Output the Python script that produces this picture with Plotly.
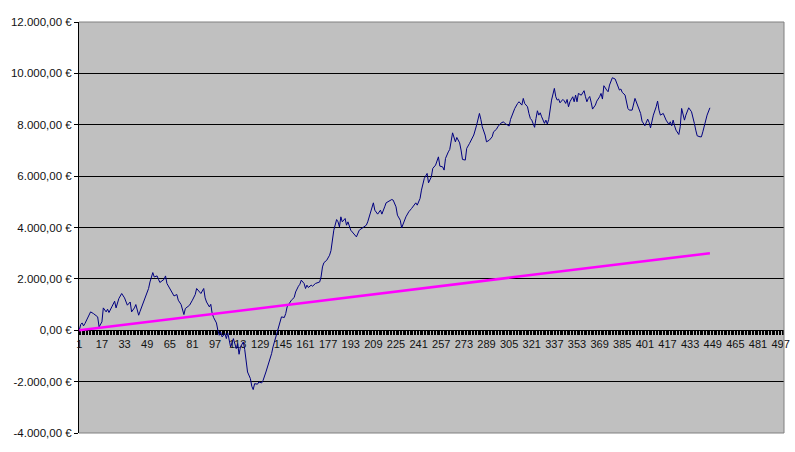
import plotly.graph_objects as go

# Blue series (category index, value in EUR)
blue_cat = [1, 2, 3, 4, 5, 8, 9, 11, 14, 15, 17, 18, 20, 21, 22, 24, 26, 27, 29, 31, 33, 35, 37, 38, 40, 41, 42, 43, 44, 46,
            48, 50, 51, 53, 54, 56, 57, 58, 61, 62, 63, 65, 67, 68, 70, 71, 73, 74, 75, 76, 79, 81, 83, 84, 86, 87, 89, 90,
            91, 92, 93, 94, 95, 96, 98, 99, 100, 101, 102, 104, 105, 106, 107, 108, 110, 112, 113, 114, 115, 117, 118, 119,
            120, 122, 123, 124, 125, 127, 128, 130, 131, 133, 135, 137, 138, 140, 142, 143, 144, 146, 147, 148, 150, 151,
            153, 154, 156, 157, 158, 160, 161, 162, 163, 165, 166, 168, 171, 172, 173, 174, 176, 178, 179, 180, 181, 183,
            184, 185, 186, 187, 189, 190, 191, 193, 194, 197, 199, 201, 204, 205, 207, 209, 210, 212, 214, 215, 217, 218,
            222, 223, 225, 226, 228, 229, 232, 234, 236, 239, 240, 242, 243, 245, 247, 248, 250, 251, 253, 254, 255, 256,
            258, 259, 260, 262, 263, 265, 266, 267, 268, 270, 271, 272, 274, 275, 277, 278, 280, 282, 284, 285, 286, 288,
            289, 291, 293, 294, 296, 297, 299, 301, 302, 304, 305, 306, 308, 309, 311, 312, 314, 315, 316, 318, 319, 320,
            321, 323, 324, 325, 326, 327, 328, 330, 331, 332, 333, 334, 335, 337, 338, 339, 340, 341, 343, 344, 345, 346,
            347, 348, 350, 351, 352, 353, 354, 356, 357, 358, 359, 360, 361, 362, 363, 364, 366, 367, 369, 370, 371, 372,
            374, 375, 376, 377, 378, 380, 381, 382, 383, 384, 385, 387, 388, 389, 390, 392, 394, 395, 396, 397, 398, 399,
            401, 403, 404, 405, 406, 407, 409, 410, 411, 412, 414, 415, 416, 418, 419, 420, 421, 422, 423, 425, 426, 427,
            428, 429, 430, 431, 432, 434, 435, 436, 437, 438, 440, 441, 442, 443, 444, 445, 447]
blue_val = [0, 222, 285, 170, 260, 610, 715, 650, 520, 130, 325, 870, 715, 820, 690, 910, 1130, 870, 1235, 1430, 1260, 975,
            1100, 715, 870, 1000, 780, 585, 740, 1040, 1260, 1625, 1880, 2245, 2075, 2115, 1985, 1860, 1985, 2115, 1820,
            1625, 1490, 1335, 1390, 1170, 1000, 845, 610, 845, 975, 1170, 1390, 1625, 1520, 1430, 1625, 1260, 1100, 975,
            910, 1010, 650, 495, 285, 0, -195, -65, -260, -130, -325, -105, -390, -650, -325, -715, -520, -935, -650,
            -455, -750, -1300, -1625, -1880, -2180, -2310, -2080, -2100, -2015, -2050, -1950, -1625, -1300, -910, -650,
            -285, 65, 325, 520, 495, 650, 910, 1100, 1170, 1275, 1490, 1715, 1790, 1950, 1820, 1625, 1755, 1665, 1755,
            1715, 1820, 1880, 2075, 2465, 2630, 2725, 2920, 3100, 3440, 3895, 4310, 4220, 4025, 4415, 4220, 4350, 4090,
            4220, 3895, 3830, 3635, 3895, 3960, 4090, 4220, 4545, 4960, 4675, 4520, 4675, 4520, 4805, 4960, 5090, 5065,
            4805, 4480, 4285, 3985, 4415, 4610, 4740, 4960, 4870, 5130, 5455, 5910, 6105, 5740, 5975, 6300, 6430, 6560,
            6750, 6390, 6360, 6235, 6690, 6945, 7040, 7685, 7530, 7335, 7505, 7295, 7015, 6650, 6625, 7080, 7275, 7400,
            7600, 7985, 8440, 8210, 7920, 7600, 7335, 7400, 7530, 7725, 7820, 7920, 8055, 8115, 8050, 7985, 7950, 8210,
            8505, 8635, 8830, 8895, 8765, 9025, 8830, 8700, 8440, 8245, 8180, 7900, 8245, 8545, 8375, 8465, 8310, 8055,
            8180, 8025, 8210, 8570, 8960, 9415, 9090, 8960, 9000, 8855, 8985, 8930, 8830, 8985, 8700, 8895, 9090, 8895,
            9155, 8895, 9220, 9150, 9245, 9325, 9090, 8895, 9025, 9100, 8880, 8610, 8765, 8920, 9090, 9220, 9000, 9520,
            9350, 9285, 9545, 9740, 9830, 9780, 9650, 9480, 9350, 9390, 9260, 9155, 8895, 8635, 8570, 8570, 9025, 8895,
            8700, 8635, 8440, 8140, 7960, 8220, 8090, 7880, 8180, 8375, 8700, 8920, 8570, 8375, 8440, 8310, 8180, 8015,
            8115, 7960, 8180, 7960, 7790, 7620, 7920, 8635, 8440, 8180, 8375, 8505, 8660, 8505, 8310, 8055, 7790, 7570,
            7530, 7530, 7725, 7960, 8115, 8375, 8660]

# Magenta series (straight rising line)
pink_cat = [1, 447]
pink_val = [0, 3000]

# Axis ticks
y_ticks = [-4000, -2000, 0, 2000, 4000, 6000, 8000, 10000, 12000]
y_labels = ["-4.000,00 €", "-2.000,00 €", "0,00 €", "2.000,00 €", "4.000,00 €",
            "6.000,00 €", "8.000,00 €", "10.000,00 €", "12.000,00 €"]
x_ticks = list(range(1, 498, 16))
x_labels = [str(t) for t in x_ticks]

FONT = "Arial, Liberation Sans, sans-serif"
YSIZE = 11.5
XSIZE = 11

fig = go.Figure()
fig.add_trace(go.Scatter(x=blue_cat, y=blue_val, mode="lines",
                         line=dict(color="#000080", width=1), showlegend=False))
fig.add_trace(go.Scatter(x=pink_cat, y=pink_val, mode="lines",
                         line=dict(color="#FF00FF", width=2.5), showlegend=False))

fig.update_layout(
    width=795, height=452,
    margin=dict(l=79, r=11, t=22, b=19, autoexpand=False),
    paper_bgcolor="white",
    plot_bgcolor="#C0C0C0",
    showlegend=False,
    font=dict(family=FONT, size=YSIZE, color="black"),
    xaxis=dict(
        range=[0.8, 499.4],
        anchor="free", position=0.25,
        automargin=False,
        tickvals=x_ticks, ticktext=x_labels,
        tickangle=0,
        showgrid=False, zeroline=False,
        showline=True, linecolor="black", linewidth=1,
        ticks="outside", ticklen=4, tickcolor="black", tickwidth=1,
        minor=dict(dtick=1, tick0=1, ticks="outside", ticklen=4, tickcolor="black", tickwidth=1, showgrid=False),
        tickfont=dict(family=FONT, size=XSIZE, color="#111111"),
        layer="below traces",
    ),
    yaxis=dict(
        range=[-4000, 12000],
        automargin=False,
        tickvals=y_ticks, ticktext=y_labels,
        showgrid=True, gridcolor="black", gridwidth=1,
        zeroline=False,
        showline=True, linecolor="black", linewidth=1,
        ticks="outside", ticklen=4, tickcolor="black",
        tickfont=dict(family=FONT, size=YSIZE, color="#111111"),
        layer="below traces",
    ),
)

# gray plot-area border on top, right and bottom
for x0, y0, x1, y1 in [(0, 1, 1, 1), (1, 0, 1, 1), (0, 0, 1, 0)]:
    fig.add_shape(type="line", xref="paper", yref="paper", x0=x0, y0=y0, x1=x1, y1=y1,
                  line=dict(color="#808080", width=1), layer="above")

fig.write_html("out.html")
